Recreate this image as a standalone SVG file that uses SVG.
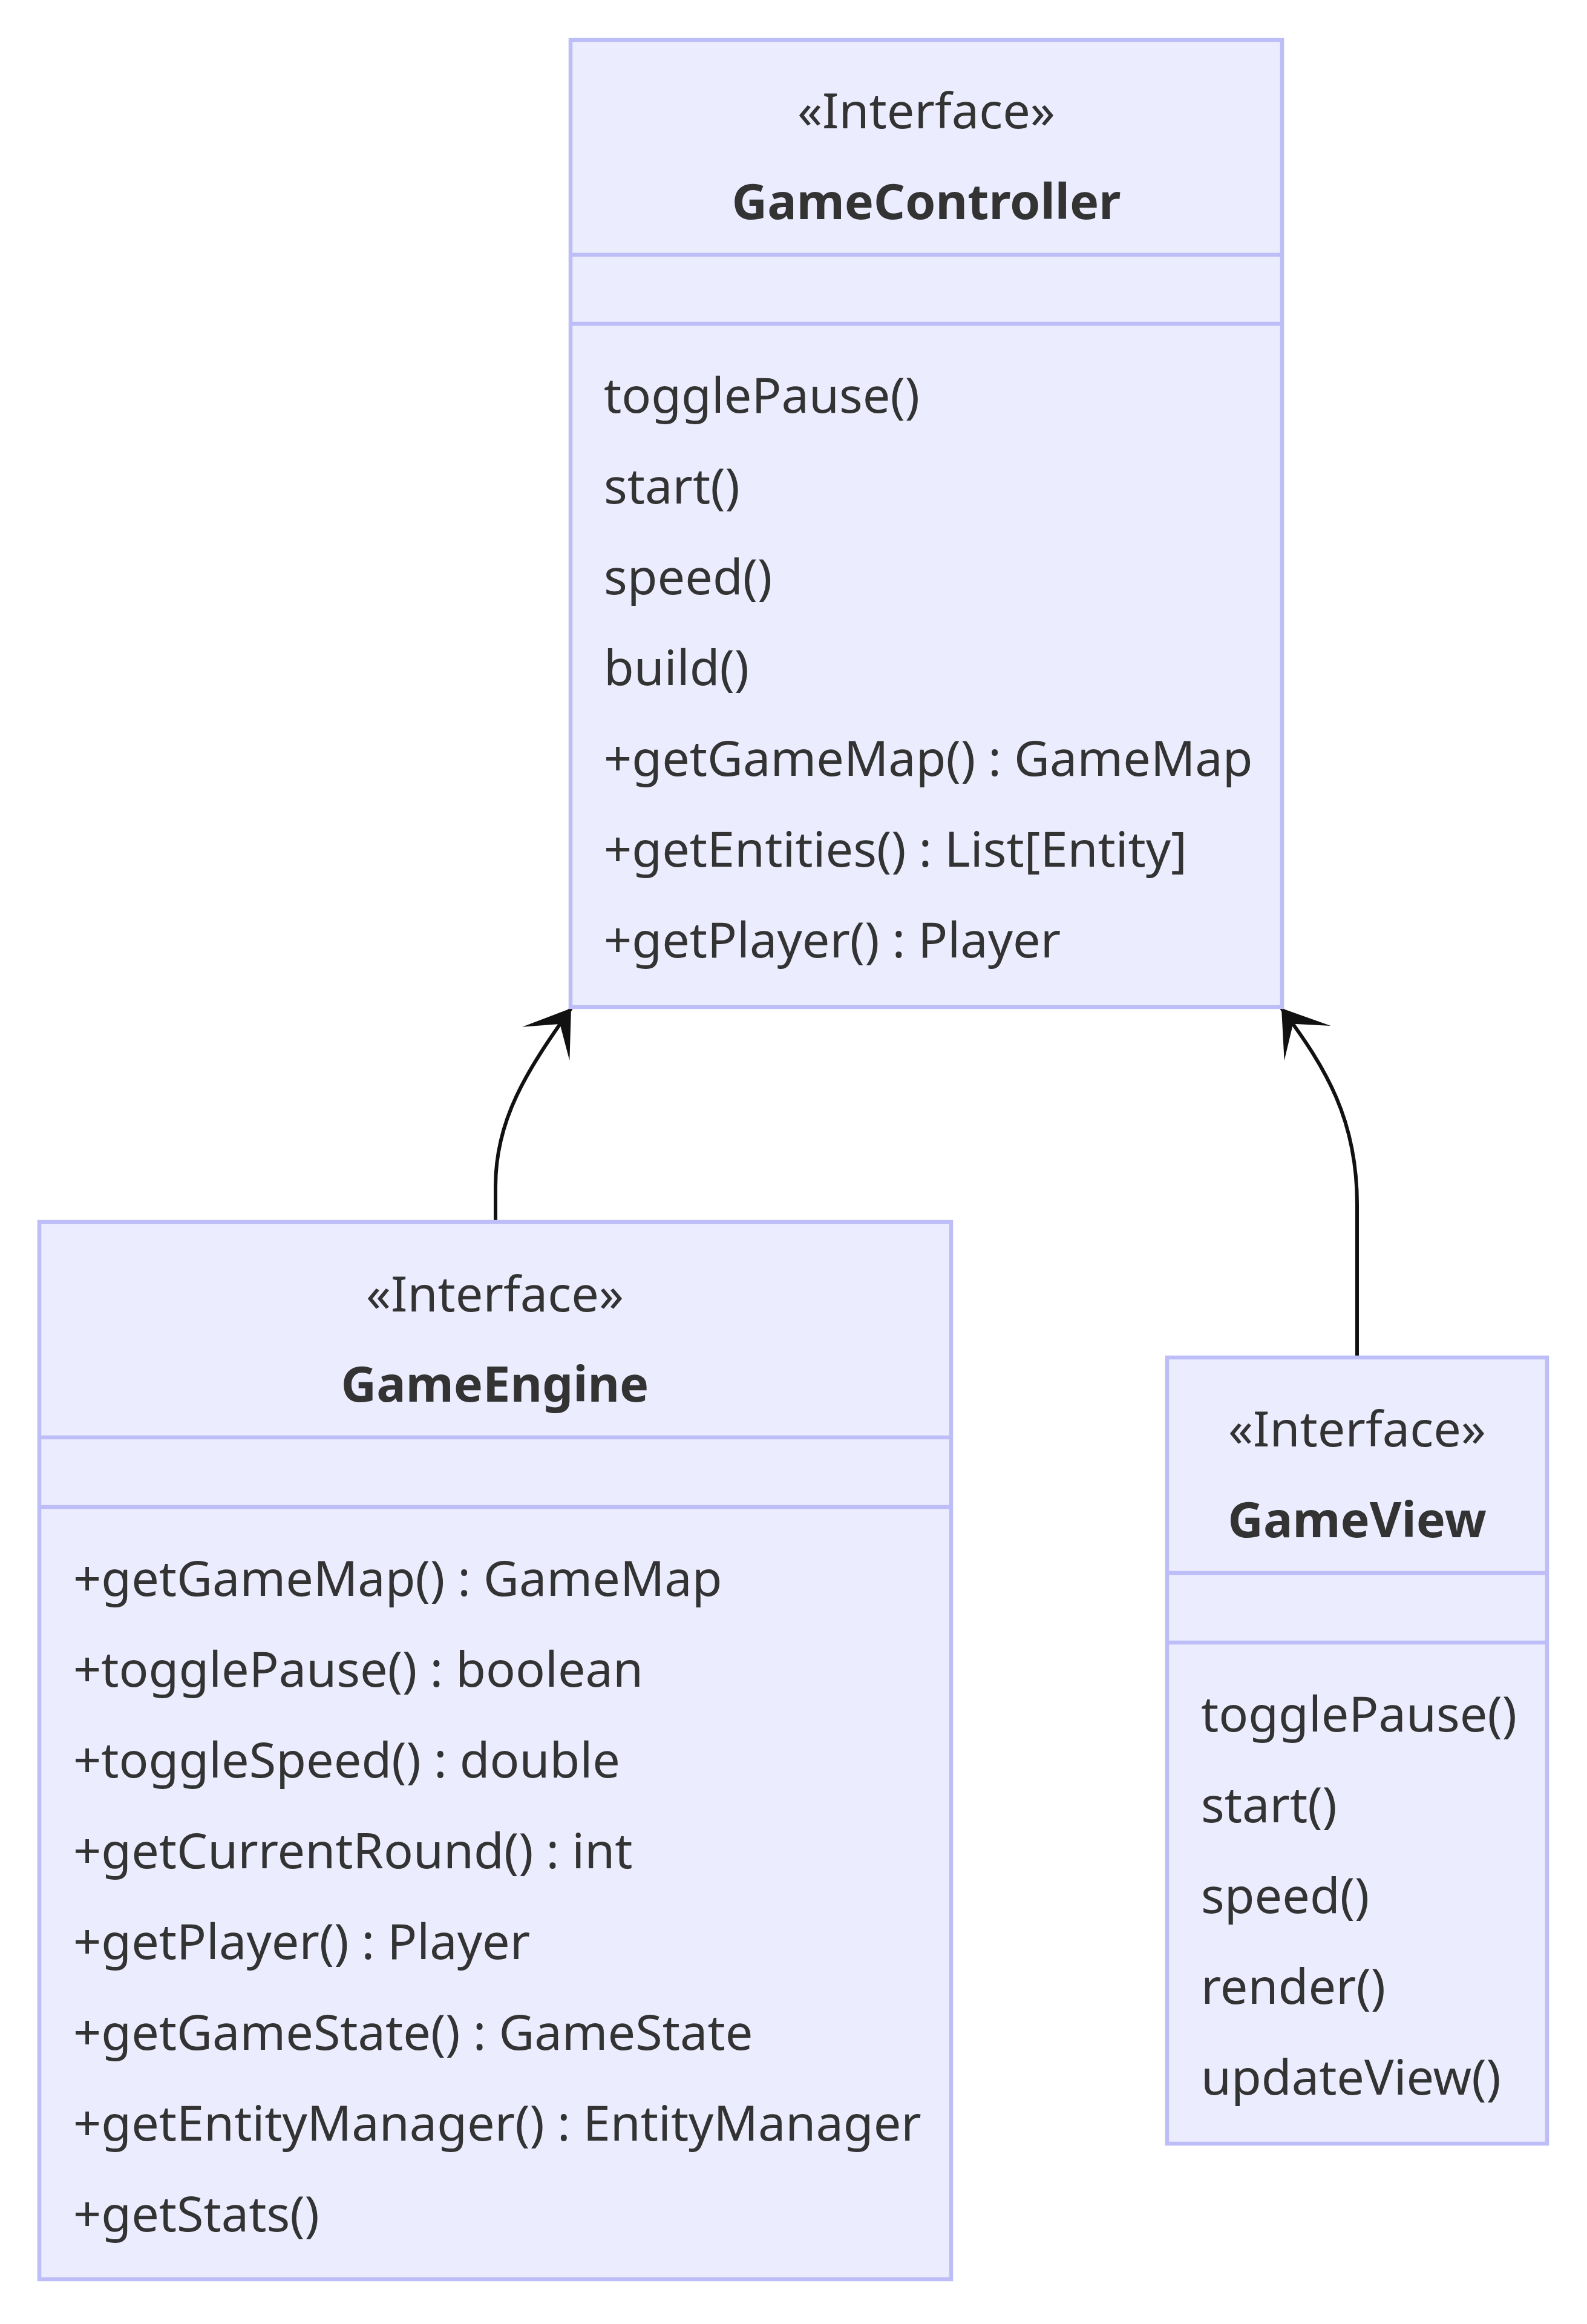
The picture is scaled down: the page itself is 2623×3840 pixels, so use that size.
<svg xmlns="http://www.w3.org/2000/svg" width="2623" height="3840" viewBox="0 0 2623 3840">
<style>
.box{fill:#ECECFF;stroke:#BDBDF7;stroke-width:6.5}
.div{stroke:#BDBDF7;stroke-width:6.5}
.t{font-family:"Noto Sans","Open Sans","DejaVu Sans",sans-serif;font-size:81px;fill:#333333}
.c{text-anchor:middle}
.b{font-weight:bold}
.edge{fill:none;stroke:#111111;stroke-width:6}
</style>
<defs>
<marker id="arrow" viewBox="0 0 20 14" refX="18" refY="7" markerUnits="userSpaceOnUse" markerWidth="160" markerHeight="112" orient="auto">
<path d="M18,7 L9,13 L14,7 L9,1 Z" fill="#111111"/>
</marker>
</defs>
<rect width="2623" height="3840" fill="#ffffff"/>
<g id="connectors">
<path class="edge" d="M 819 2019 L 819 1960 C 819 1850 870 1770 944 1666" marker-end="url(#arrow)"/>
<path class="edge" d="M 2243 2243 L 2243 1990 C 2243 1850 2192 1765 2118 1666" marker-end="url(#arrow)"/>
</g>
<g id="GameController">
<rect class="box" x="943" y="66" width="1176" height="1598"/>
<line class="div" x1="943" y1="421" x2="2119" y2="421"/>
<line class="div" x1="943" y1="535" x2="2119" y2="535"/>
<text class="t c" x="1531" y="212">«Interface»</text>
<text class="t c b" x="1531" y="362">GameController</text>
<text class="t" x="998" y="682">togglePause()</text>
<text class="t" x="998" y="832">start()</text>
<text class="t" x="998" y="982">speed()</text>
<text class="t" x="998" y="1132">build()</text>
<text class="t" x="998" y="1282">+getGameMap() : GameMap</text>
<text class="t" x="998" y="1432">+getEntities() : List[Entity]</text>
<text class="t" x="998" y="1582">+getPlayer() : Player</text>
</g>
<g id="GameEngine">
<rect class="box" x="65" y="2019" width="1507" height="1747"/>
<line class="div" x1="65" y1="2375" x2="1572" y2="2375"/>
<line class="div" x1="65" y1="2490" x2="1572" y2="2490"/>
<text class="t c" x="818" y="2167">«Interface»</text>
<text class="t c b" x="818" y="2316">GameEngine</text>
<text class="t" x="121" y="2637">+getGameMap() : GameMap</text>
<text class="t" x="121" y="2787">+togglePause() : boolean</text>
<text class="t" x="121" y="2937">+toggleSpeed() : double</text>
<text class="t" x="121" y="3087">+getCurrentRound() : int</text>
<text class="t" x="121" y="3237">+getPlayer() : Player</text>
<text class="t" x="121" y="3387">+getGameState() : GameState</text>
<text class="t" x="121" y="3537">+getEntityManager() : EntityManager</text>
<text class="t" x="121" y="3687">+getStats()</text>
</g>
<g id="GameView">
<rect class="box" x="1929" y="2243" width="628" height="1299"/>
<line class="div" x1="1929" y1="2599" x2="2557" y2="2599"/>
<line class="div" x1="1929" y1="2714" x2="2557" y2="2714"/>
<text class="t c" x="2243" y="2390">«Interface»</text>
<text class="t c b" x="2243" y="2540">GameView</text>
<text class="t" x="1985" y="2861">togglePause()</text>
<text class="t" x="1985" y="3011">start()</text>
<text class="t" x="1985" y="3161">speed()</text>
<text class="t" x="1985" y="3311">render()</text>
<text class="t" x="1985" y="3461">updateView()</text>
</g>
</svg>
